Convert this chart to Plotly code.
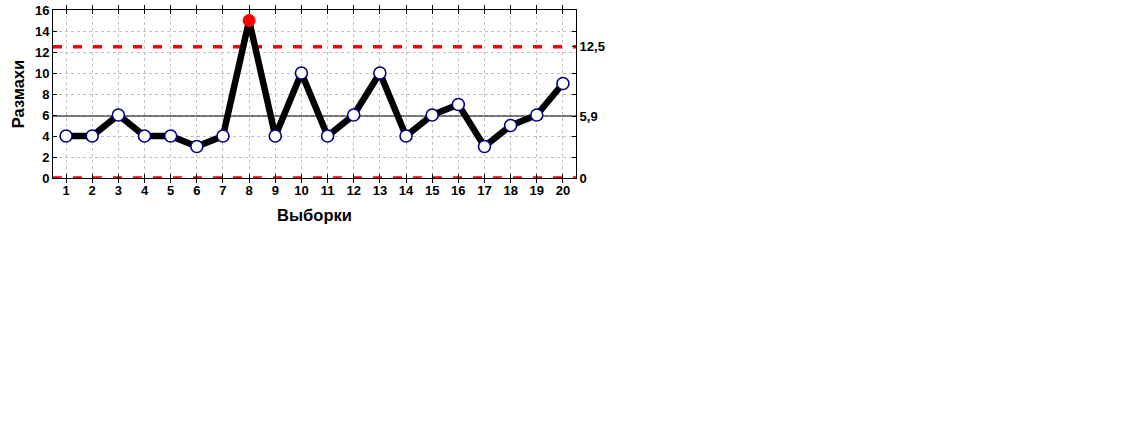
import plotly.graph_objects as go

samples = list(range(1, 21))
ranges = [4, 4, 6, 4, 4, 3, 4, 15, 4, 10, 4, 6, 10, 4, 6, 7, 3, 5, 6, 9]
ucl = 12.5
cl = 5.9
lcl = 0
out_idx = [8]
right_ticks = [0, 2, 4, 5.9, 8, 10, 12.5, 14]
right_labels = ["0", "", "", "5,9", "", "", "12,5", ""]

font_b = "Liberation Sans"

fig = go.Figure()

# control limits
fig.add_trace(go.Scatter(x=[0.5, 20.5], y=[cl, cl], mode="lines",
                         line=dict(color="black", width=1), hoverinfo="skip",
                         cliponaxis=False))
for lim in (ucl, lcl):
    fig.add_trace(go.Scatter(x=[0.5, 20.5], y=[lim, lim], mode="lines",
                             line=dict(color="#ff0000", width=3.5, dash="9px,11px"),
                             hoverinfo="skip", cliponaxis=False))

fig.add_trace(go.Scatter(x=samples, y=ranges, mode="lines",
                         line=dict(color="black", width=6.5), hoverinfo="skip",
                         cliponaxis=False))

normal_x = [s for s in samples if s not in out_idx]
normal_y = [r for s, r in zip(samples, ranges) if s not in out_idx]
out_x = [s for s in samples if s in out_idx]
out_y = [r for s, r in zip(samples, ranges) if s in out_idx]

fig.add_trace(go.Scatter(x=normal_x, y=normal_y, mode="markers",
                         marker=dict(size=12, color="white",
                                     line=dict(color="#00008b", width=1.6)),
                         cliponaxis=False))
fig.add_trace(go.Scatter(x=out_x, y=out_y, mode="markers",
                         marker=dict(size=12, color="#ff0000",
                                     line=dict(color="#ff0000", width=1)),
                         cliponaxis=False))

# invisible trace for right axis
fig.add_trace(go.Scatter(x=[1], y=[0], yaxis="y2", mode="markers",
                         marker=dict(opacity=0), hoverinfo="skip"))

tf = dict(family=font_b, size=13, color="black", weight="bold")

fig.update_layout(
    width=1125, height=427,
    margin=dict(l=53, r=549, t=10, b=249),
    paper_bgcolor="white", plot_bgcolor="white",
    showlegend=False,
    font=dict(family=font_b, color="black", size=13),
    xaxis=dict(range=[0.5, 20.5], tickvals=samples, ticktext=[str(s) for s in samples],
               automargin=False,
               showgrid=True, gridcolor="#c0c0c0", griddash="dot", gridwidth=1,
               showline=True, linecolor="black", linewidth=1, mirror="allticks",
               ticks="inside", ticklen=4, tickcolor="black", zeroline=False,
               tickfont=tf,
               title=dict(text="Выборки", font=dict(family=font_b, size=16.5, weight="bold"),
                          standoff=12)),
    yaxis=dict(range=[0, 16], tickvals=list(range(0, 17, 2)),
               automargin=False, ticklabeloverflow="allow",
               showgrid=True, gridcolor="#c0c0c0", griddash="dot", gridwidth=1,
               showline=True, linecolor="black", linewidth=1,
               ticks="inside", ticklen=4, tickcolor="black", zeroline=False,
               tickfont=tf,
               title=dict(text="Размахи", font=dict(family=font_b, size=16.5, weight="bold"),
                          standoff=6)),
    yaxis2=dict(range=[0, 16], overlaying="y", side="right", tickvals=right_ticks,
                ticktext=right_labels, showgrid=False, zeroline=False,
                automargin=False,
                showline=True, linecolor="black", linewidth=1,
                ticks="inside", ticklen=4, tickcolor="black",
                tickfont=tf),
)

fig.write_html("out.html", config={"displayModeBar": False},
               post_script="document.body.style.margin='0';document.body.style.overflow='hidden';")
